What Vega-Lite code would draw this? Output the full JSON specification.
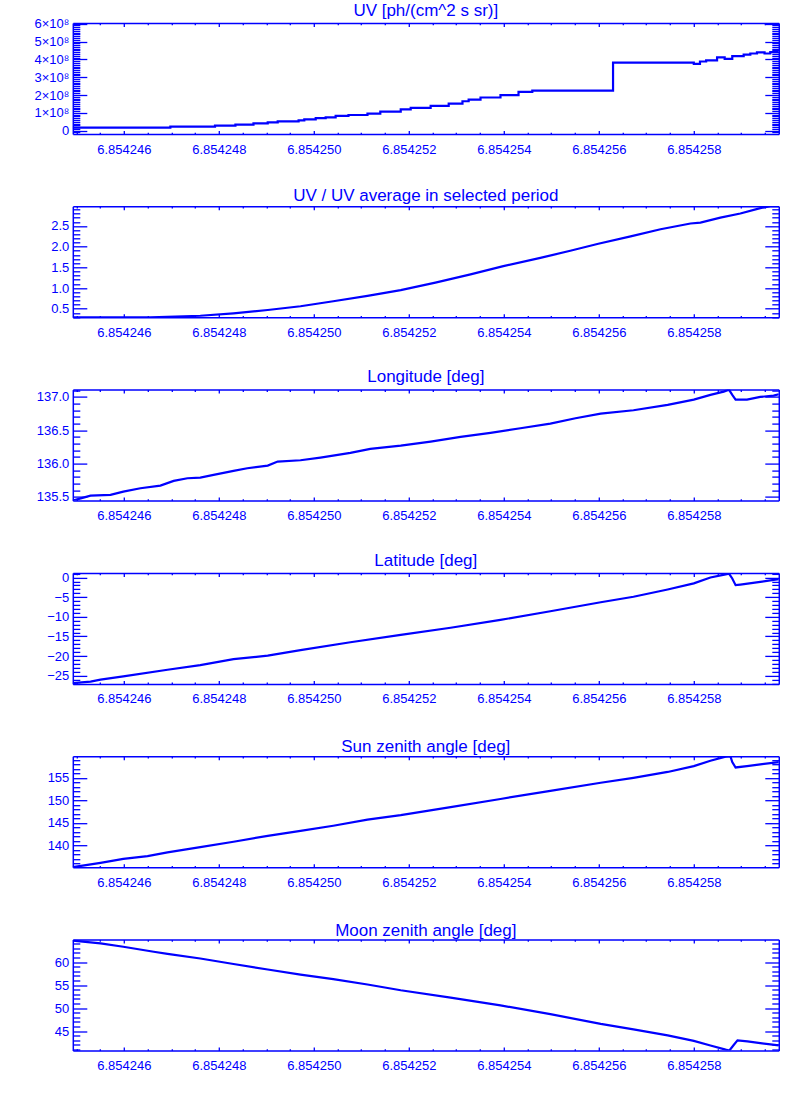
{
  "$schema": "https://vega.github.io/schema/vega-lite/v6.json",
  "background": "white",
  "padding": {"left": 33.8, "top": 1, "right": 0, "bottom": 0},
  "spacing": 72.3,
  "bounds": "flush",
  "datasets": {
    "p1": [
      {"t": 6.8542449263, "v": 1.7e7}, {"t": 6.85424698, "v": 2.25e7}, {"t": 6.85424792, "v": 2.8e7},
      {"t": 6.85424835, "v": 3.4e7}, {"t": 6.85424873, "v": 4.1e7}, {"t": 6.85424903, "v": 4.7e7},
      {"t": 6.85424924, "v": 5.2e7}, {"t": 6.85424968, "v": 5.8e7}, {"t": 6.8542498, "v": 6.4e7},
      {"t": 6.85425004, "v": 7.0e7}, {"t": 6.85425025, "v": 7.5e7}, {"t": 6.85425046, "v": 8.3e7},
      {"t": 6.85425073, "v": 8.8e7}, {"t": 6.85425113, "v": 9.6e7}, {"t": 6.8542514, "v": 1.07e8},
      {"t": 6.85425183, "v": 1.2e8}, {"t": 6.85425204, "v": 1.28e8}, {"t": 6.85425246, "v": 1.39e8},
      {"t": 6.85425284, "v": 1.52e8}, {"t": 6.85425313, "v": 1.65e8}, {"t": 6.85425326, "v": 1.74e8},
      {"t": 6.85425351, "v": 1.86e8}, {"t": 6.85425393, "v": 2.0e8}, {"t": 6.85425431, "v": 2.18e8},
      {"t": 6.8542546, "v": 2.25e8}, {"t": 6.8542563, "v": 3.82e8}, {"t": 6.854258, "v": 3.75e8},
      {"t": 6.85425813, "v": 3.88e8}, {"t": 6.85425826, "v": 3.94e8}, {"t": 6.85425849, "v": 4.11e8},
      {"t": 6.85425865, "v": 4.03e8}, {"t": 6.85425881, "v": 4.18e8}, {"t": 6.85425905, "v": 4.27e8},
      {"t": 6.85425919, "v": 4.33e8}, {"t": 6.85425933, "v": 4.39e8}, {"t": 6.85425949, "v": 4.33e8},
      {"t": 6.85425961, "v": 4.41e8}, {"t": 6.8542597895, "v": 4.41e8}
    ],
    "p2": [
      {"t": 6.8542449263, "v": 0.29}, {"t": 6.85424656, "v": 0.29}, {"t": 6.85424761, "v": 0.33},
      {"t": 6.85424831, "v": 0.39}, {"t": 6.85424903, "v": 0.47}, {"t": 6.85424972, "v": 0.56},
      {"t": 6.85425041, "v": 0.68}, {"t": 6.85425113, "v": 0.81}, {"t": 6.85425183, "v": 0.95},
      {"t": 6.85425256, "v": 1.13}, {"t": 6.8542533, "v": 1.33}, {"t": 6.85425399, "v": 1.53},
      {"t": 6.85425477, "v": 1.73}, {"t": 6.8542554, "v": 1.9}, {"t": 6.85425599, "v": 2.07},
      {"t": 6.85425667, "v": 2.25}, {"t": 6.8542573, "v": 2.42}, {"t": 6.85425793, "v": 2.56},
      {"t": 6.85425814, "v": 2.58}, {"t": 6.85425856, "v": 2.7}, {"t": 6.85425898, "v": 2.8},
      {"t": 6.8542594, "v": 2.93}, {"t": 6.85425961, "v": 2.98}, {"t": 6.8542597895, "v": 2.98}
    ],
    "p3": [
      {"t": 6.8542449263, "v": 135.445}, {"t": 6.85424515, "v": 135.49}, {"t": 6.8542453, "v": 135.52},
      {"t": 6.85424572, "v": 135.53}, {"t": 6.85424599, "v": 135.58}, {"t": 6.85424635, "v": 135.63},
      {"t": 6.85424677, "v": 135.67}, {"t": 6.85424705, "v": 135.74}, {"t": 6.85424734, "v": 135.78},
      {"t": 6.85424761, "v": 135.79}, {"t": 6.85424789, "v": 135.83}, {"t": 6.85424831, "v": 135.89},
      {"t": 6.8542486, "v": 135.93}, {"t": 6.85424903, "v": 135.97}, {"t": 6.85424924, "v": 136.03},
      {"t": 6.85424972, "v": 136.05}, {"t": 6.85425014, "v": 136.09}, {"t": 6.85425077, "v": 136.16},
      {"t": 6.85425119, "v": 136.22}, {"t": 6.85425183, "v": 136.27}, {"t": 6.85425246, "v": 136.33},
      {"t": 6.85425309, "v": 136.4}, {"t": 6.85425372, "v": 136.46}, {"t": 6.85425435, "v": 136.53},
      {"t": 6.85425498, "v": 136.6}, {"t": 6.85425551, "v": 136.68}, {"t": 6.85425604, "v": 136.75},
      {"t": 6.85425673, "v": 136.8}, {"t": 6.85425745, "v": 136.88}, {"t": 6.854258, "v": 136.96},
      {"t": 6.85425835, "v": 137.03}, {"t": 6.85425863, "v": 137.08}, {"t": 6.85425874, "v": 137.11},
      {"t": 6.85425881, "v": 137.03}, {"t": 6.85425888, "v": 136.96}, {"t": 6.85425912, "v": 136.96},
      {"t": 6.8542594, "v": 137.0}, {"t": 6.85425968, "v": 137.02}, {"t": 6.8542597895, "v": 137.04}
    ],
    "p4": [
      {"t": 6.8542449263, "v": -26.9}, {"t": 6.8542453, "v": -26.5}, {"t": 6.85424551, "v": -26.0},
      {"t": 6.85424599, "v": -25.2}, {"t": 6.85424692, "v": -23.5}, {"t": 6.85424761, "v": -22.3},
      {"t": 6.85424831, "v": -20.8}, {"t": 6.85424903, "v": -19.9}, {"t": 6.85424972, "v": -18.5},
      {"t": 6.85425077, "v": -16.5}, {"t": 6.85425183, "v": -14.6}, {"t": 6.85425288, "v": -12.8},
      {"t": 6.85425393, "v": -10.8}, {"t": 6.85425498, "v": -8.6}, {"t": 6.85425604, "v": -6.3},
      {"t": 6.85425673, "v": -4.9}, {"t": 6.85425745, "v": -3.05}, {"t": 6.854258, "v": -1.5},
      {"t": 6.85425835, "v": 0.0}, {"t": 6.85425867, "v": 0.8}, {"t": 6.85425874, "v": 1.0},
      {"t": 6.85425881, "v": -0.25}, {"t": 6.85425888, "v": -1.95}, {"t": 6.85425898, "v": -1.8},
      {"t": 6.8542594, "v": -1.1}, {"t": 6.8542597895, "v": -0.43}
    ],
    "p5": [
      {"t": 6.8542449263, "v": 135.14}, {"t": 6.85424551, "v": 136.1}, {"t": 6.85424599, "v": 137.0},
      {"t": 6.8542465, "v": 137.6}, {"t": 6.85424692, "v": 138.45}, {"t": 6.85424761, "v": 139.6},
      {"t": 6.85424831, "v": 140.8}, {"t": 6.85424903, "v": 142.1}, {"t": 6.85424972, "v": 143.2},
      {"t": 6.85425041, "v": 144.35}, {"t": 6.85425113, "v": 145.7}, {"t": 6.85425183, "v": 146.7},
      {"t": 6.85425288, "v": 148.5}, {"t": 6.85425393, "v": 150.3}, {"t": 6.85425498, "v": 152.1},
      {"t": 6.85425604, "v": 153.9}, {"t": 6.85425673, "v": 155.0}, {"t": 6.85425745, "v": 156.3},
      {"t": 6.854258, "v": 157.6}, {"t": 6.85425835, "v": 158.8}, {"t": 6.85425867, "v": 159.7},
      {"t": 6.85425877, "v": 159.8}, {"t": 6.85425881, "v": 158.5}, {"t": 6.85425888, "v": 157.3},
      {"t": 6.85425912, "v": 157.6}, {"t": 6.8542594, "v": 158.0}, {"t": 6.8542597895, "v": 158.5}
    ],
    "p6": [
      {"t": 6.8542449263, "v": 64.7}, {"t": 6.85424551, "v": 64.07}, {"t": 6.85424599, "v": 63.35},
      {"t": 6.85424663, "v": 62.26}, {"t": 6.85424692, "v": 61.8}, {"t": 6.85424761, "v": 60.8},
      {"t": 6.85424831, "v": 59.6}, {"t": 6.85424903, "v": 58.4}, {"t": 6.85424972, "v": 57.3},
      {"t": 6.85425041, "v": 56.3}, {"t": 6.85425113, "v": 55.15}, {"t": 6.85425183, "v": 53.9},
      {"t": 6.85425288, "v": 52.3}, {"t": 6.85425393, "v": 50.6}, {"t": 6.85425498, "v": 48.7},
      {"t": 6.85425604, "v": 46.6}, {"t": 6.85425673, "v": 45.4}, {"t": 6.85425745, "v": 44.1},
      {"t": 6.854258, "v": 42.9}, {"t": 6.85425835, "v": 41.9}, {"t": 6.85425867, "v": 41.0},
      {"t": 6.85425875, "v": 40.8}, {"t": 6.85425884, "v": 42.0}, {"t": 6.85425892, "v": 43.0},
      {"t": 6.85425913, "v": 42.8}, {"t": 6.8542594, "v": 42.4}, {"t": 6.8542597895, "v": 41.9}
    ]
  },
  "vconcat": [
    {
      "title": {"text": "UV [ph/(cm^2 s sr)]"},
      "width": 706, "height": 111,
      "data": {"name": "p1"},
      "resolve": {"axis": {"x": "independent", "y": "independent"}},
      "layer": [
        {
          "mark": {"type": "line", "color": "#0000ff", "strokeWidth": 2.2, "clip": true, "interpolate": "step-after"},
          "encoding": {
            "x": {"field": "t", "type": "quantitative", "scale": {"domain": [6.8542449263, 6.8542597895], "nice": false, "zero": false},
              "axis": {"orient": "bottom", "title": null, "tickCount": 30, "format": ".6f", "labelExpr": "abs(datum.value*5e5 - round(datum.value*5e5)) < 0.001 ? datum.label : ''", "tickSize": {"condition": {"test": "abs(datum.value*5e5 - round(datum.value*5e5)) < 0.001", "value": -3.5}, "value": -1.8}, "labelPadding": 12.5}},
            "y": {"field": "v", "type": "quantitative", "scale": {"domain": [-1.86e7, 6.04e8], "nice": false, "zero": false},
              "axis": {"orient": "left", "title": null, "tickCount": 60, "labelExpr": "abs(datum.value/1e8 - round(datum.value/1e8)) < 1e-6 ? (datum.value == 0 ? '0' : format(datum.value/1e8, 'd') + '×10⁸') : ''", "tickSize": {"condition": {"test": "abs(datum.value/1e8 - round(datum.value/1e8)) < 1e-6", "value": -14}, "value": -7}, "labelPadding": 18}}
          }
        },
        {
          "mark": {"type": "line", "opacity": 0, "clip": true, "interpolate": "step-after"},
          "encoding": {
            "x": {"field": "t", "type": "quantitative", "scale": {"domain": [6.8542449263, 6.8542597895], "nice": false, "zero": false},
              "axis": {"orient": "top", "title": null, "tickCount": 30, "labels": false, "tickSize": {"condition": {"test": "abs(datum.value*5e5 - round(datum.value*5e5)) < 0.001", "value": -3.5}, "value": -1.8}}},
            "y": {"field": "v", "type": "quantitative", "scale": {"domain": [-1.86e7, 6.04e8], "nice": false, "zero": false},
              "axis": {"orient": "right", "title": null, "tickCount": 60, "labels": false, "tickSize": {"condition": {"test": "abs(datum.value/1e8 - round(datum.value/1e8)) < 1e-6", "value": -14}, "value": -7}}}
          }
        }
      ]
    },
    {
      "title": {"text": "UV / UV average in selected period"},
      "width": 706, "height": 111,
      "data": {"name": "p2"},
      "resolve": {"axis": {"x": "independent", "y": "independent"}},
      "layer": [
        {
          "mark": {"type": "line", "color": "#0000ff", "strokeWidth": 2.2, "clip": true},
          "encoding": {
            "x": {"field": "t", "type": "quantitative", "scale": {"domain": [6.8542449263, 6.8542597895], "nice": false, "zero": false},
              "axis": {"orient": "bottom", "title": null, "tickCount": 30, "format": ".6f", "labelExpr": "abs(datum.value*5e5 - round(datum.value*5e5)) < 0.001 ? datum.label : ''", "tickSize": {"condition": {"test": "abs(datum.value*5e5 - round(datum.value*5e5)) < 0.001", "value": -3.5}, "value": -1.8}, "labelPadding": 12.5}},
            "y": {"field": "v", "type": "quantitative", "scale": {"domain": [0.293, 2.975], "nice": false, "zero": false},
              "axis": {"orient": "left", "title": null, "tickCount": 26, "format": ".1f", "labelExpr": "abs(datum.value*2 - round(datum.value*2)) < 1e-6 ? datum.label : ''", "tickSize": {"condition": {"test": "abs(datum.value*2 - round(datum.value*2)) < 1e-6", "value": -14}, "value": -7}, "labelPadding": 18}}
          }
        },
        {
          "mark": {"type": "line", "opacity": 0, "clip": true},
          "encoding": {
            "x": {"field": "t", "type": "quantitative", "scale": {"domain": [6.8542449263, 6.8542597895], "nice": false, "zero": false},
              "axis": {"orient": "top", "title": null, "tickCount": 30, "labels": false, "tickSize": {"condition": {"test": "abs(datum.value*5e5 - round(datum.value*5e5)) < 0.001", "value": -3.5}, "value": -1.8}}},
            "y": {"field": "v", "type": "quantitative", "scale": {"domain": [0.293, 2.975], "nice": false, "zero": false},
              "axis": {"orient": "right", "title": null, "tickCount": 26, "labels": false, "tickSize": {"condition": {"test": "abs(datum.value*2 - round(datum.value*2)) < 1e-6", "value": -14}, "value": -7}}}
          }
        }
      ]
    },
    {
      "title": {"text": "Longitude [deg]"},
      "width": 706, "height": 111,
      "data": {"name": "p3"},
      "resolve": {"axis": {"x": "independent", "y": "independent"}},
      "layer": [
        {
          "mark": {"type": "line", "color": "#0000ff", "strokeWidth": 2.2, "clip": true},
          "encoding": {
            "x": {"field": "t", "type": "quantitative", "scale": {"domain": [6.8542449263, 6.8542597895], "nice": false, "zero": false},
              "axis": {"orient": "bottom", "title": null, "tickCount": 30, "format": ".6f", "labelExpr": "abs(datum.value*5e5 - round(datum.value*5e5)) < 0.001 ? datum.label : ''", "tickSize": {"condition": {"test": "abs(datum.value*5e5 - round(datum.value*5e5)) < 0.001", "value": -3.5}, "value": -1.8}, "labelPadding": 12.5}},
            "y": {"field": "v", "type": "quantitative", "scale": {"domain": [135.445, 137.11], "nice": false, "zero": false},
              "axis": {"orient": "left", "title": null, "tickCount": 16, "format": ".1f", "labelExpr": "abs(datum.value*2 - round(datum.value*2)) < 1e-6 ? datum.label : ''", "tickSize": {"condition": {"test": "abs(datum.value*2 - round(datum.value*2)) < 1e-6", "value": -14}, "value": -7}, "labelPadding": 18}}
          }
        },
        {
          "mark": {"type": "line", "opacity": 0, "clip": true},
          "encoding": {
            "x": {"field": "t", "type": "quantitative", "scale": {"domain": [6.8542449263, 6.8542597895], "nice": false, "zero": false},
              "axis": {"orient": "top", "title": null, "tickCount": 30, "labels": false, "tickSize": {"condition": {"test": "abs(datum.value*5e5 - round(datum.value*5e5)) < 0.001", "value": -3.5}, "value": -1.8}}},
            "y": {"field": "v", "type": "quantitative", "scale": {"domain": [135.445, 137.11], "nice": false, "zero": false},
              "axis": {"orient": "right", "title": null, "tickCount": 16, "labels": false, "tickSize": {"condition": {"test": "abs(datum.value*2 - round(datum.value*2)) < 1e-6", "value": -14}, "value": -7}}}
          }
        }
      ]
    },
    {
      "title": {"text": "Latitude [deg]"},
      "width": 706, "height": 111,
      "data": {"name": "p4"},
      "resolve": {"axis": {"x": "independent", "y": "independent"}},
      "layer": [
        {
          "mark": {"type": "line", "color": "#0000ff", "strokeWidth": 2.2, "clip": true},
          "encoding": {
            "x": {"field": "t", "type": "quantitative", "scale": {"domain": [6.8542449263, 6.8542597895], "nice": false, "zero": false},
              "axis": {"orient": "bottom", "title": null, "tickCount": 30, "format": ".6f", "labelExpr": "abs(datum.value*5e5 - round(datum.value*5e5)) < 0.001 ? datum.label : ''", "tickSize": {"condition": {"test": "abs(datum.value*5e5 - round(datum.value*5e5)) < 0.001", "value": -3.5}, "value": -1.8}, "labelPadding": 12.5}},
            "y": {"field": "v", "type": "quantitative", "scale": {"domain": [-27.1, 1.17], "nice": false, "zero": false},
              "axis": {"orient": "left", "title": null, "tickCount": 28, "format": "d", "labelExpr": "abs(datum.value/5 - round(datum.value/5)) < 1e-6 ? datum.label : ''", "tickSize": {"condition": {"test": "abs(datum.value/5 - round(datum.value/5)) < 1e-6", "value": -14}, "value": -7}, "labelPadding": 18}}
          }
        },
        {
          "mark": {"type": "line", "opacity": 0, "clip": true},
          "encoding": {
            "x": {"field": "t", "type": "quantitative", "scale": {"domain": [6.8542449263, 6.8542597895], "nice": false, "zero": false},
              "axis": {"orient": "top", "title": null, "tickCount": 30, "labels": false, "tickSize": {"condition": {"test": "abs(datum.value*5e5 - round(datum.value*5e5)) < 0.001", "value": -3.5}, "value": -1.8}}},
            "y": {"field": "v", "type": "quantitative", "scale": {"domain": [-27.1, 1.17], "nice": false, "zero": false},
              "axis": {"orient": "right", "title": null, "tickCount": 28, "labels": false, "tickSize": {"condition": {"test": "abs(datum.value/5 - round(datum.value/5)) < 1e-6", "value": -14}, "value": -7}}}
          }
        }
      ]
    },
    {
      "title": {"text": "Sun zenith angle [deg]"},
      "width": 706, "height": 111,
      "data": {"name": "p5"},
      "resolve": {"axis": {"x": "independent", "y": "independent"}},
      "layer": [
        {
          "mark": {"type": "line", "color": "#0000ff", "strokeWidth": 2.2, "clip": true},
          "encoding": {
            "x": {"field": "t", "type": "quantitative", "scale": {"domain": [6.8542449263, 6.8542597895], "nice": false, "zero": false},
              "axis": {"orient": "bottom", "title": null, "tickCount": 30, "format": ".6f", "labelExpr": "abs(datum.value*5e5 - round(datum.value*5e5)) < 0.001 ? datum.label : ''", "tickSize": {"condition": {"test": "abs(datum.value*5e5 - round(datum.value*5e5)) < 0.001", "value": -3.5}, "value": -1.8}, "labelPadding": 12.5}},
            "y": {"field": "v", "type": "quantitative", "scale": {"domain": [135.14, 159.8], "nice": false, "zero": false},
              "axis": {"orient": "left", "title": null, "tickCount": 24, "format": "d", "labelExpr": "abs(datum.value/5 - round(datum.value/5)) < 1e-6 ? datum.label : ''", "tickSize": {"condition": {"test": "abs(datum.value/5 - round(datum.value/5)) < 1e-6", "value": -14}, "value": -7}, "labelPadding": 18}}
          }
        },
        {
          "mark": {"type": "line", "opacity": 0, "clip": true},
          "encoding": {
            "x": {"field": "t", "type": "quantitative", "scale": {"domain": [6.8542449263, 6.8542597895], "nice": false, "zero": false},
              "axis": {"orient": "top", "title": null, "tickCount": 30, "labels": false, "tickSize": {"condition": {"test": "abs(datum.value*5e5 - round(datum.value*5e5)) < 0.001", "value": -3.5}, "value": -1.8}}},
            "y": {"field": "v", "type": "quantitative", "scale": {"domain": [135.14, 159.8], "nice": false, "zero": false},
              "axis": {"orient": "right", "title": null, "tickCount": 24, "labels": false, "tickSize": {"condition": {"test": "abs(datum.value/5 - round(datum.value/5)) < 1e-6", "value": -14}, "value": -7}}}
          }
        }
      ]
    },
    {
      "title": {"text": "Moon zenith angle [deg]"},
      "width": 706, "height": 111,
      "data": {"name": "p6"},
      "resolve": {"axis": {"x": "independent", "y": "independent"}},
      "layer": [
        {
          "mark": {"type": "line", "color": "#0000ff", "strokeWidth": 2.2, "clip": true},
          "encoding": {
            "x": {"field": "t", "type": "quantitative", "scale": {"domain": [6.8542449263, 6.8542597895], "nice": false, "zero": false},
              "axis": {"orient": "bottom", "title": null, "tickCount": 30, "format": ".6f", "labelExpr": "abs(datum.value*5e5 - round(datum.value*5e5)) < 0.001 ? datum.label : ''", "tickSize": {"condition": {"test": "abs(datum.value*5e5 - round(datum.value*5e5)) < 0.001", "value": -3.5}, "value": -1.8}, "labelPadding": 12.5}},
            "y": {"field": "v", "type": "quantitative", "scale": {"domain": [40.8, 64.93], "nice": false, "zero": false},
              "axis": {"orient": "left", "title": null, "tickCount": 24, "format": "d", "labelExpr": "abs(datum.value/5 - round(datum.value/5)) < 1e-6 ? datum.label : ''", "tickSize": {"condition": {"test": "abs(datum.value/5 - round(datum.value/5)) < 1e-6", "value": -14}, "value": -7}, "labelPadding": 18}}
          }
        },
        {
          "mark": {"type": "line", "opacity": 0, "clip": true},
          "encoding": {
            "x": {"field": "t", "type": "quantitative", "scale": {"domain": [6.8542449263, 6.8542597895], "nice": false, "zero": false},
              "axis": {"orient": "top", "title": null, "tickCount": 30, "labels": false, "tickSize": {"condition": {"test": "abs(datum.value*5e5 - round(datum.value*5e5)) < 0.001", "value": -3.5}, "value": -1.8}}},
            "y": {"field": "v", "type": "quantitative", "scale": {"domain": [40.8, 64.93], "nice": false, "zero": false},
              "axis": {"orient": "right", "title": null, "tickCount": 24, "labels": false, "tickSize": {"condition": {"test": "abs(datum.value/5 - round(datum.value/5)) < 1e-6", "value": -14}, "value": -7}}}
          }
        }
      ]
    }
  ],
  "config": {
    "view": {"stroke": null},
    "axis": {
      "grid": false,
      "domainColor": "#0000ff", "domainWidth": 1.5,
      "tickColor": "#0000ff", "tickWidth": 1.3,
      "labelColor": "#0000ff", "labelFont": "Liberation Sans", "labelFontSize": 13,
      "labelOverlap": false, "labelFlush": false, "labelBound": false
    },
    "title": {"color": "#0000ff", "font": "Liberation Sans", "fontSize": 17, "fontWeight": "normal", "baseline": "alphabetic", "offset": -2, "anchor": "middle"}
  }
}
